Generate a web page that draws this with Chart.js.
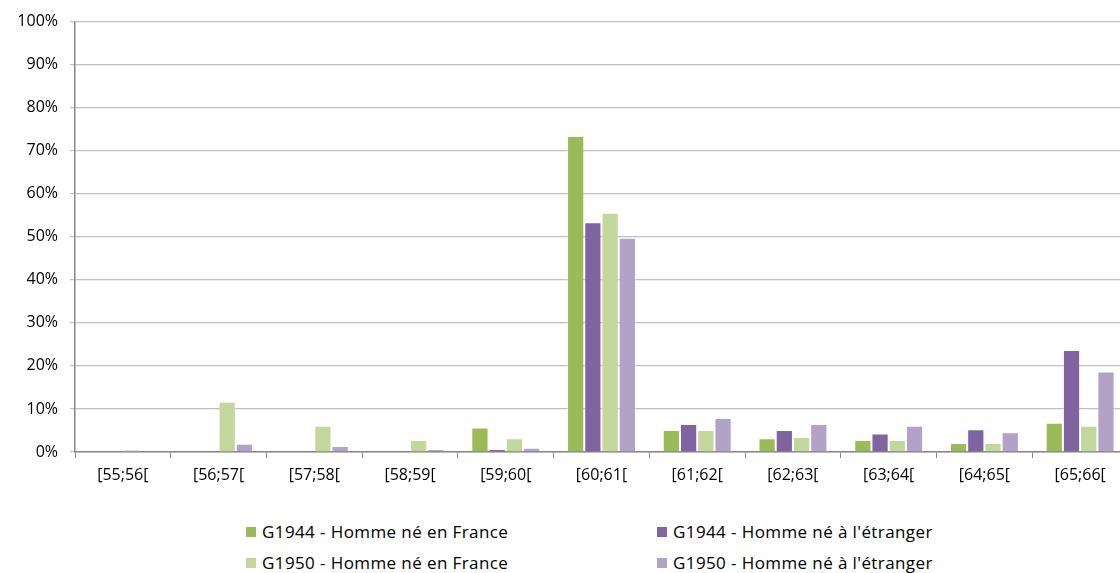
<!DOCTYPE html>
<html>
<head>
    <title>Répartition des âges de départ</title>
    <script src="https://cdn.jsdelivr.net/npm/chart.js@4.4.1/dist/chart.umd.min.js"></script>
    <style>
        body { margin: 0; overflow: hidden; background: #fff; font-family: "Open Sans", sans-serif; }
        #wrap { position: relative; width: 1128px; height: 573px; }
        #box { position: absolute; left: 0; top: 0; width: 1128px; height: 500px; }
        .item { position: absolute; font-size: 17px; letter-spacing: 0.4px; color: #000; white-space: nowrap; line-height: 20px; }
        .sw { display: inline-block; width: 10px; height: 10px; margin-right: 6px; vertical-align: 1px; }
    </style>
</head>
<body>
<div id="wrap">
    <div id="box"><canvas id="ageChart"></canvas></div>
    <div id="legend"></div>
</div>
<script>
    // Tranches d'âge
    const ages = ['[55;56[', '[56;57[', '[57;58[', '[58;59[', '[59;60[', '[60;61[',
                  '[61;62[', '[62;63[', '[63;64[', '[64;65[', '[65;66['];

    // Parts en %
    const g1944France   = [0, 0, 0, 0, 5.7, 73.4, 5.1, 3.2, 2.8, 2.1, 6.8];
    const g1944Etranger = [0, 0, 0, 0, 0.7, 53.4, 6.5, 5.1, 4.3, 5.3, 23.7];
    const g1950France   = [0.5, 11.7, 6.1, 2.8, 3.2, 55.6, 5.1, 3.5, 2.8, 2.1, 6.1];
    const g1950Etranger = [0, 1.9, 1.4, 0.7, 1.0, 49.8, 7.9, 6.5, 6.1, 4.6, 18.7];

    const seriesNames = ['G1944 - Homme né en France', 'G1944 - Homme né à l\'étranger',
                         'G1950 - Homme né en France', 'G1950 - Homme né à l\'étranger'];
    const seriesColors = ['#9BBB59', '#8064A2', '#C3D69B', '#B3A2C7'];
    const seriesData = [g1944France, g1944Etranger, g1950France, g1950Etranger];

    const font = { family: '"Open Sans", sans-serif', size: 16 };

    const chart = new Chart(document.getElementById('ageChart'), {
        type: 'bar',
        data: {
            labels: ages,
            datasets: seriesData.map((d, i) => ({
                label: seriesNames[i],
                data: d,
                backgroundColor: seriesColors[i],
                borderColor: 'rgba(255,255,255,0.35)',
                borderWidth: 1,
                categoryPercentage: 0.72,
                barPercentage: 1
            }))
        },
        options: {
            responsive: true,
            maintainAspectRatio: false,
            animation: false,
            layout: { padding: { top: 20, left: 0, right: 0, bottom: 0 } },
            plugins: {
                legend: { display: false },
                tooltip: { enabled: false }
            },
            scales: {
                x: {
                    grid: { drawOnChartArea: false, drawTicks: true, tickLength: 6, color: '#868686', offset: true },
                    border: { color: '#868686', width: 1.5 },
                    ticks: { font: font, color: '#000', padding: 8, maxRotation: 0 },
                    afterFit: s => { s.height = 48; }
                },
                y: {
                    min: 0,
                    max: 100,
                    ticks: { stepSize: 10, font: font, color: '#000', padding: 12, callback: v => v + '%' },
                    grid: { color: '#C0C0C0', tickLength: 5, lineWidth: 1.2 },
                    border: { color: '#868686', width: 1.5 },
                    afterFit: s => { s.width = 75; }
                }
            }
        }
    });

    // Légende sur deux colonnes
    const legendPos = [[246, 522], [657, 522], [246, 553], [657, 553]];
    const legend = document.getElementById('legend');
    seriesNames.forEach((name, i) => {
        const el = document.createElement('div');
        el.className = 'item';
        el.style.left = legendPos[i][0] + 'px';
        el.style.top = legendPos[i][1] + 'px';
        el.innerHTML = '<span class="sw" style="background:' + seriesColors[i] + '"></span>';
        el.appendChild(document.createTextNode(name));
        legend.appendChild(el);
    });
</script>
</body>
</html>
